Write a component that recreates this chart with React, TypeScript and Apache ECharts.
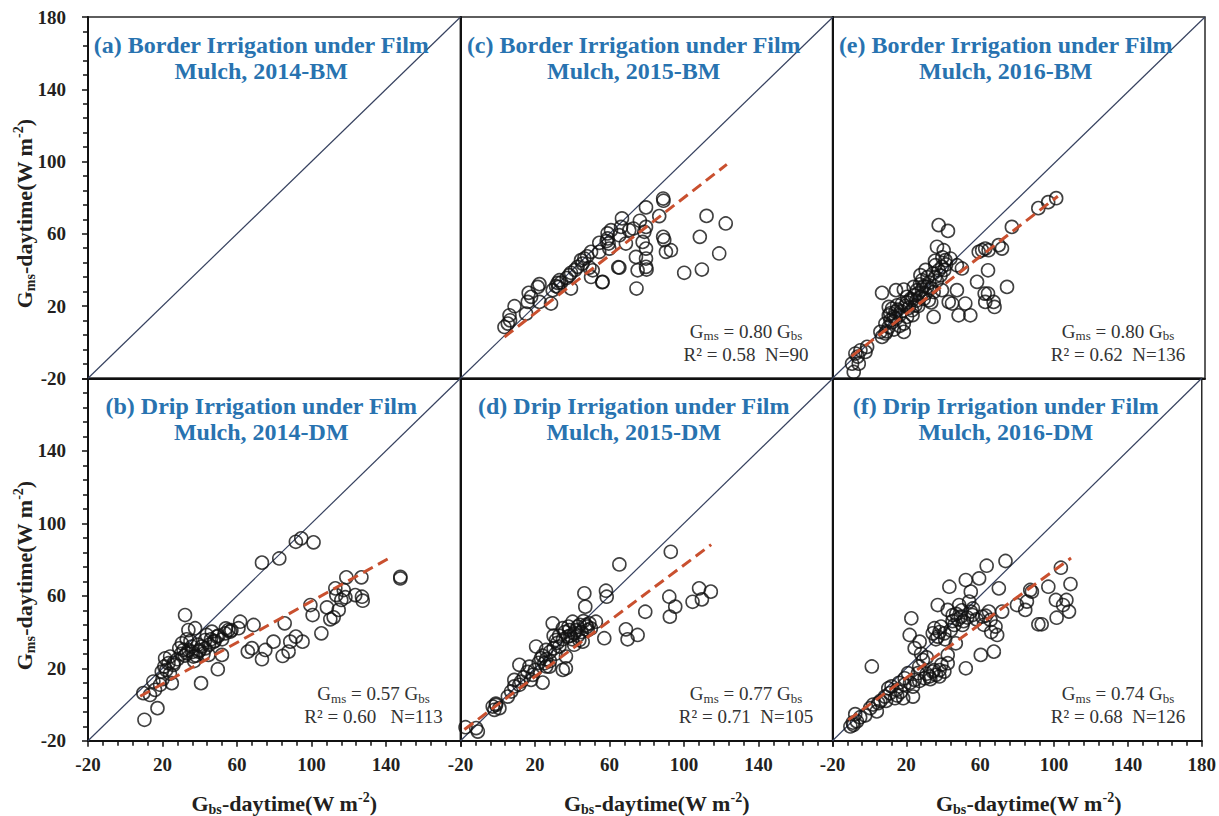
import React, { useEffect, useRef } from "react";
import * as echarts from "echarts";

// ---------- data ----------
const axisMin = -20;
const axisMax = 180;
const axisStep = 40;

const panelTitles: string[][] = [
  ["(a) Border Irrigation under Film", "Mulch, 2014-BM"],
  ["(c) Border Irrigation under Film", "Mulch, 2015-BM"],
  ["(e) Border Irrigation under Film", "Mulch, 2016-BM"],
  ["(b) Drip Irrigation under Film", "Mulch, 2014-DM"],
  ["(d) Drip Irrigation under Film", "Mulch, 2015-DM"],
  ["(f) Drip Irrigation under Film", "Mulch, 2016-DM"],
];

const slopes: (number | null)[] = [null, 0.8, 0.8, 0.57, 0.77, 0.74];
const slopeLabels: string[] = ["", "0.80", "0.80", "0.57", "0.77", "0.74"];
const r2Labels: string[] = ["", "R² = 0.58  N=90", "R² = 0.62  N=136", "R² = 0.60   N=113", "R² = 0.71  N=105", "R² = 0.68  N=126"];
const fitXRange: (number[] | null)[] = [null, [3.6, 123], [-9.8, 101], [8, 142.4], [-17.9, 114.6], [-11.4, 109.2]];
const oneToOne: number[][] = [[-20, -20], [180, 180]];

const bm2014: number[][] = [];

const bm2015: number[][] = [
  [3.6, 8.4], [5.4, 10.3], [6.6, 12.1], [6.3, 14.9], [9.0, 19.9], [15.2, 15.8], [16.1, 22.3], [16.6, 27.3],
  [17.9, 25.1], [21.5, 30.6], [22.4, 32.1], [22.4, 22.3], [28.6, 21.4], [29.5, 28.8], [31.3, 31.0], [32.2, 32.8],
  [33.1, 34.3], [34.0, 33.0], [32.5, 30.5], [39.3, 29.7], [38.4, 37.1], [39.3, 38.4], [37.0, 35.5], [42.9, 41.7],
  [41.5, 40.0], [44.7, 45.4], [46.5, 46.3], [45.5, 43.5], [49.2, 41.3], [50.1, 36.1], [50.1, 50.0], [48.0, 47.5],
  [51.0, 39.8], [54.5, 55.0], [54.5, 50.0], [56.3, 33.4], [59.0, 60.2], [59.0, 57.4], [59.5, 54.6], [59.9, 51.8],
  [60.8, 62.0], [58.5, 56.0], [65.3, 59.2], [66.2, 63.8], [65.3, 41.3], [66.7, 68.5], [68.8, 54.6], [70.6, 62.0],
  [72.8, 62.9], [74.2, 47.2], [75.1, 39.8], [74.5, 29.7], [76.3, 67.2], [77.8, 55.5], [78.7, 61.1], [79.6, 63.8],
  [79.6, 51.8], [79.6, 46.3], [79.6, 41.7], [79.9, 40.2], [79.6, 74.6], [86.7, 69.8], [88.8, 79.5], [89.0, 78.3],
  [88.8, 58.3], [89.4, 56.5], [90.3, 50.0], [93.0, 50.9], [100.1, 38.4], [108.5, 58.3], [109.6, 40.2], [112.1, 69.9],
  [118.9, 49.1], [122.4, 65.7], [64.7, 41.5], [56.1, 33.2],
];

const bm2016: number[][] = [
  [-8.6, -16.5], [-9.5, -11.9], [-5.9, -11.9], [-7.7, -6.3], [-5.0, -4.5], [-2.3, -5.4], [-1.4, -2.6], [-6.5, -8.0],
  [6.6, 2.9], [8.4, 4.8], [5.7, 5.7], [10.2, 8.4], [8.4, 10.3], [11.1, 12.1], [12.9, 14.0], [10.2, 14.9],
  [13.8, 16.8], [12.0, 18.6], [10.2, 19.5], [14.7, 20.4], [17.4, 21.4], [18.3, 5.7], [18.3, 10.3], [6.6, 27.3],
  [14.1, 28.8], [18.3, 29.1], [20.0, 25.1], [22.7, 17.7], [22.7, 23.2], [23.6, 30.6], [25.4, 28.8], [24.5, 20.4],
  [27.2, 25.1], [28.1, 34.3], [27.2, 37.1], [30.8, 30.6], [31.7, 23.2], [34.3, 27.8], [35.2, 36.2], [37.0, 39.8],
  [35.2, 42.6], [38.8, 41.7], [36.1, 52.8], [39.7, 50.9], [37.0, 64.8], [42.0, 61.6], [40.6, 45.4], [43.3, 46.3],
  [38.8, 28.8], [42.4, 22.3], [44.2, 21.4], [46.8, 28.8], [46.8, 42.6], [47.7, 14.9], [51.3, 21.4], [54.0, 14.9],
  [34.3, 14.0], [49.5, 40.8], [57.6, 33.4], [58.5, 50.0], [60.3, 50.9], [62.0, 51.8], [63.5, 39.8], [63.8, 50.9],
  [61.7, 26.9], [63.5, 26.9], [62.0, 22.3], [66.5, 22.3], [67.0, 19.5], [69.2, 53.7], [71.0, 51.8], [73.7, 30.6],
  [76.3, 63.8], [90.5, 74.2], [95.8, 77.5], [100.1, 79.7],
  [12, 11], [14, 13], [16, 15], [15, 18], [17, 17], [19, 20], [20, 22], [21, 19], [22, 24], [24, 26], [25, 23],
  [26, 27], [28, 29], [29, 31], [30, 27], [32, 33], [33, 30], [31, 36], [34, 38], [36, 34], [38, 37], [40, 40],
  [20, 14], [16, 9], [13, 7], [9, 6], [11, 16], [23, 15], [26, 20], [29, 24], [33, 22], [35, 45], [39, 47],
  [41, 43], [30, 40], [27, 32],
];

const dm2014: number[][] = [
  [10.3, -8.4], [17.3, -2.0], [9.7, 6.3], [13.3, 5.3], [16.0, 8.1], [15.1, 12.7], [18.7, 10.9], [25.0, 11.8],
  [19.6, 18.2], [21.0, 21.0], [23.2, 22.8], [25.9, 21.9], [21.4, 25.5], [24.1, 26.5], [40.7, 11.8], [49.7, 19.5],
  [32.1, 49.4], [30.4, 33.8], [31.3, 30.1], [33.0, 28.3], [35.7, 32.0], [36.6, 26.5], [33.9, 41.1], [37.5, 42.1],
  [39.3, 29.2], [41.1, 32.0], [42.9, 35.6], [43.8, 38.4], [44.7, 27.4], [46.5, 40.2], [47.4, 34.7], [49.2, 37.5],
  [51.9, 27.4], [53.7, 39.3], [55.4, 41.1], [56.3, 40.2], [61.7, 45.7], [60.8, 42.1], [68.9, 43.9], [65.8, 29.2],
  [68.0, 31.1], [73.4, 25.0], [75.2, 30.1], [79.6, 34.7], [85.6, 44.8], [84.5, 26.8], [87.7, 29.2], [88.6, 34.7],
  [91.6, 37.5], [95.2, 34.7], [73.4, 78.3], [82.7, 80.6], [91.6, 89.8], [94.5, 91.7], [101.1, 89.5], [105.3, 39.3],
  [99.4, 54.9], [100.6, 49.4], [108.3, 53.6], [110.1, 47.0], [111.9, 48.1], [112.8, 64.1], [113.3, 60.4], [114.6, 52.2],
  [116.0, 57.7], [117.3, 63.2], [118.2, 59.2], [118.7, 70.2], [123.5, 60.4], [126.8, 70.2], [127.1, 59.5], [127.5, 57.3],
  [147.7, 70.5], [147.7, 69.6],
  [29, 31], [30, 28], [32, 27], [34, 30], [35, 35], [36, 29], [38, 27], [39, 33], [40, 30], [42, 28], [43, 31],
  [45, 33], [46, 36], [48, 35], [50, 38], [52, 36], [54, 42], [57, 41], [22, 19], [24, 17], [26, 23], [28, 25],
  [20, 14], [33, 36], [37, 24],
];

const dm2015: number[][] = [
  [-17.3, -12.5], [-11.6, -13.0], [-10.7, -14.9], [-2.7, -1.1], [-0.9, -0.2], [-1.8, -2.9], [0.9, -2.0], [5.4, 4.4],
  [7.2, 7.2], [8.9, 10.0], [8.9, 13.6], [11.6, 10.9], [12.5, 12.7], [11.6, 21.9], [17.0, 20.9], [17.9, 13.6],
  [18.8, 16.4], [24.1, 12.1], [20.6, 32.0], [23.2, 25.5], [25.0, 22.8], [25.9, 30.1], [27.7, 20.9], [29.5, 44.8],
  [31.3, 35.6], [33.1, 32.0], [34.9, 42.1], [34.9, 19.1], [36.6, 20.0], [36.6, 26.5], [37.6, 37.5], [38.4, 41.1],
  [40.2, 45.7], [41.1, 39.3], [42.9, 43.0], [43.8, 35.6], [45.6, 34.7], [46.5, 61.4], [47.0, 54.0], [47.4, 43.9],
  [48.3, 41.1], [49.2, 44.8], [52.7, 45.7], [57.2, 36.6], [58.1, 62.8], [58.5, 59.5], [65.3, 77.3], [68.8, 41.5],
  [69.7, 36.0], [75.1, 38.4], [79.2, 51.2], [92.9, 84.3], [92.1, 59.5], [92.4, 48.5], [95.3, 54.0], [104.6, 56.7],
  [108.1, 64.1], [109.6, 58.0], [114.4, 62.3],
  [-1, 0.5], [14, 15], [16, 18], [20, 19], [22, 23], [24, 27], [26, 25], [28, 29], [30, 31], [32, 34], [33, 38],
  [35, 36], [36, 40], [38, 43], [39, 38], [40, 36], [42, 41], [44, 44], [45, 40], [46, 46], [48, 43], [50, 42],
  [26, 21], [28, 24], [31, 28], [30, 38], [41, 33], [43, 38],
];

const dm2016: number[][] = [
  [-10.3, -12.1], [-8.6, -11.2], [-6.8, -9.3], [-7.7, -5.3], [-2.3, -6.0], [0.4, -2.0], [4.0, -3.8], [4.8, 0.8],
  [8.4, 4.4], [10.2, 9.0], [11.1, 6.3], [13.8, 3.5], [14.7, 8.1], [18.3, 3.5], [19.1, 14.5], [20.9, 17.3],
  [23.6, 4.4], [23.6, 9.9], [24.5, 13.6], [26.3, 17.3], [29.0, 24.6], [1.3, 21.0], [22.7, 47.6], [21.8, 38.4],
  [24.5, 31.1], [27.2, 34.7], [29.9, 14.5], [32.5, 15.5], [34.3, 18.2], [36.1, 16.4], [37.9, 15.5], [40.6, 18.2],
  [42.4, 22.8], [42.4, 27.4], [34.3, 39.3], [35.2, 42.1], [37.0, 37.5], [38.8, 43.0], [40.6, 39.3], [37.0, 54.9],
  [42.4, 52.2], [43.3, 65.0], [45.1, 49.4], [46.0, 43.9], [46.8, 33.8], [48.6, 54.9], [49.5, 48.5], [50.4, 43.9],
  [52.2, 20.0], [52.2, 68.7], [54.9, 62.3], [54.0, 56.8], [54.9, 51.3], [55.8, 49.4], [59.4, 69.6], [60.3, 27.4],
  [61.1, 48.5], [63.5, 76.6], [64.7, 51.3], [65.6, 46.7], [67.4, 29.2], [68.3, 43.0], [69.2, 38.4], [70.1, 64.1],
  [71.9, 51.3], [73.7, 79.2], [79.9, 54.9], [84.4, 52.2], [85.3, 56.8], [87.1, 63.2], [88.0, 62.3], [91.5, 44.3],
  [93.3, 44.3], [96.9, 65.0], [101.0, 57.7], [101.4, 47.9], [103.7, 75.5], [106.7, 57.7], [104.9, 54.9], [108.9, 66.5],
  [108.1, 51.3],
  [-9, -10], [-5, -7], [2, 0], [6, 2], [12, 10], [16, 12], [17, 7], [22, 12], [27, 13], [31, 17], [33, 14],
  [35, 19], [38, 19], [39, 22], [36, 36], [38, 40], [41, 36], [44, 41], [45, 46], [47, 50], [48, 47], [50, 52],
  [51, 46], [53, 48], [56, 53], [58, 47], [62, 44], [63, 49], [66, 40], [28, 28], [31, 26], [27, 21], [19, 11],
  [9, 2], [15, 5],
];

const panelData: number[][][] = [bm2014, bm2015, bm2016, dm2014, dm2015, dm2016];

// ---------- layout / style ----------
const W = 1219;
const H = 816;
const colLeft = [88, 460.5, 832.5];
const colWidth = 372.5;
const rowTop = [17, 378.3];
const rowHeight = [361.3, 362.5];
const serif = '"Liberation Serif", "Times New Roman", serif';
const titleBlue = "#2873B0";
const fitColor = "#C9502F";
const diagColor = "#36415F";
const textDark = "#231F20";

export default function App() {
  const ref = useRef<HTMLDivElement>(null);

  useEffect(() => {
    document.body.style.margin = "0";
    const chart = echarts.init(ref.current as HTMLDivElement, null, { renderer: "svg" });

    const grids: any[] = [];
    const xAxes: any[] = [];
    const yAxes: any[] = [];
    const series: any[] = [];
    const graphic: any[] = [];

    for (let i = 0; i < 6; i++) {
      const row = i < 3 ? 0 : 1;
      const col = i % 3;
      const left = colLeft[col];
      const top = rowTop[row];
      const h = rowHeight[row];
      grids.push({
        left,
        top,
        width: colWidth,
        height: h,
        show: true,
        borderColor: "#2a2a2a",
        borderWidth: 1.5,
        backgroundColor: "transparent",
      });
      const bottomRow = row === 1;
      xAxes.push({
        type: "value",
        gridIndex: i,
        min: axisMin,
        max: axisMax,
        interval: axisStep,
        axisLine: { show: true, onZero: false, lineStyle: { color: "#111", width: 2 } },
        axisTick: { show: bottomRow, inside: false, length: 6, lineStyle: { color: "#111", width: 1.5 } },
        minorTick: { show: bottomRow, splitNumber: 5, length: 5, lineStyle: { color: "#111", width: 1.5 } },
        axisLabel: {
          show: bottomRow,
          margin: 14,
          showMaxLabel: col === 2,
          fontFamily: serif,
          fontWeight: "bold",
          fontSize: 19,
          color: textDark,
        },
        splitLine: { show: false },
        minorSplitLine: { show: false },
      });
      const leftCol = col === 0;
      yAxes.push({
        type: "value",
        gridIndex: i,
        min: axisMin,
        max: axisMax,
        interval: axisStep,
        axisLine: { show: true, onZero: false, lineStyle: { color: "#111", width: 2 } },
        axisTick: { show: leftCol, inside: false, length: 6, lineStyle: { color: "#111", width: 1.5 } },
        minorTick: { show: leftCol, splitNumber: 5, length: 5, lineStyle: { color: "#111", width: 1.5 } },
        axisLabel: {
          show: leftCol,
          margin: 22,
          showMaxLabel: row === 0,
          fontFamily: serif,
          fontWeight: "bold",
          fontSize: 19,
          color: textDark,
        },
        splitLine: { show: false },
        minorSplitLine: { show: false },
      });

      series.push({
        type: "line",
        xAxisIndex: i,
        yAxisIndex: i,
        data: oneToOne,
        symbol: "none",
        silent: true,
        z: 1,
        lineStyle: { color: diagColor, width: 1.2 },
      });
      if (panelData[i].length) {
        series.push({
          type: "scatter",
          xAxisIndex: i,
          yAxisIndex: i,
          data: panelData[i],
          symbol: "circle",
          symbolSize: 13,
          z: 2,
          itemStyle: { color: "rgba(0,0,0,0)", borderColor: "#111", borderWidth: 1.6 },
        });
      }
      const s = slopes[i];
      const xr = fitXRange[i];
      if (s !== null && xr) {
        series.push({
          type: "line",
          xAxisIndex: i,
          yAxisIndex: i,
          data: [
            [xr[0], s * xr[0]],
            [xr[1], s * xr[1]],
          ],
          symbol: "none",
          silent: true,
          z: 3,
          lineStyle: { color: fitColor, width: 3, type: [11, 6] },
        });
      }

      // panel titles
      const cx = left + colWidth / 2 - 13;
      graphic.push({
        type: "text",
        x: cx,
        y: top + 28,
        z: 10,
        style: {
          text: panelTitles[i][0],
          fill: titleBlue,
          font: `bold 24px ${serif}`,
          align: "center",
          verticalAlign: "middle",
        },
      });
      graphic.push({
        type: "text",
        x: cx,
        y: top + 54,
        z: 10,
        style: {
          text: panelTitles[i][1],
          fill: titleBlue,
          font: `bold 24px ${serif}`,
          align: "center",
          verticalAlign: "middle",
        },
      });

      // equations
      if (s !== null) {
        const ex = left + colWidth - 87;
        const bottom = top + h;
        graphic.push({
          type: "text",
          x: ex,
          y: bottom - 47,
          z: 10,
          style: {
            text: `{t|G}{s|ms}{t| = ${slopeLabels[i]} G}{s|bs}`,
            align: "center",
            verticalAlign: "middle",
            rich: {
              t: { fontFamily: serif, fontSize: 19, lineHeight: 22, fill: "#333" },
              s: { fontFamily: serif, fontSize: 13, lineHeight: 13, verticalAlign: "bottom", fill: "#333" },
            },
          },
        });
        graphic.push({
          type: "text",
          x: ex,
          y: bottom - 24,
          z: 10,
          style: {
            text: r2Labels[i],
            fill: "#333",
            font: `19px ${serif}`,
            align: "center",
            verticalAlign: "middle",
          },
        });
      }
    }

    const axisTitleRich = {
      g: { fontFamily: serif, fontSize: 22, fontWeight: "bold", lineHeight: 26, fill: textDark },
      s: { fontFamily: serif, fontSize: 14, fontWeight: "bold", lineHeight: 14, verticalAlign: "bottom", fill: textDark },
      p: { fontFamily: serif, fontSize: 14, fontWeight: "bold", lineHeight: 14, verticalAlign: "top", fill: textDark },
    };

    for (let r = 0; r < 2; r++) {
      graphic.push({
        type: "text",
        x: 24,
        y: rowTop[r] + rowHeight[r] / 2 + 16,
        rotation: Math.PI / 2,
        z: 10,
        style: {
          text: "{g|G}{s|ms}{g|-daytime(W m}{p|-2}{g|)}",
          align: "center",
          verticalAlign: "middle",
          rich: axisTitleRich,
        },
      });
    }
    for (let c = 0; c < 3; c++) {
      graphic.push({
        type: "text",
        x: colLeft[c] + colWidth / 2 + 10,
        y: 803,
        z: 10,
        style: {
          text: "{g|G}{s|bs}{g|-daytime(W m}{p|-2}{g|)}",
          align: "center",
          verticalAlign: "middle",
          rich: axisTitleRich,
        },
      });
    }

    chart.setOption({
      animation: false,
      backgroundColor: "#fff",
      grid: grids,
      xAxis: xAxes,
      yAxis: yAxes,
      series,
      graphic,
    });

    return () => chart.dispose();
  }, []);

  return <div ref={ref} style={{ width: W, height: H }} />;
}
